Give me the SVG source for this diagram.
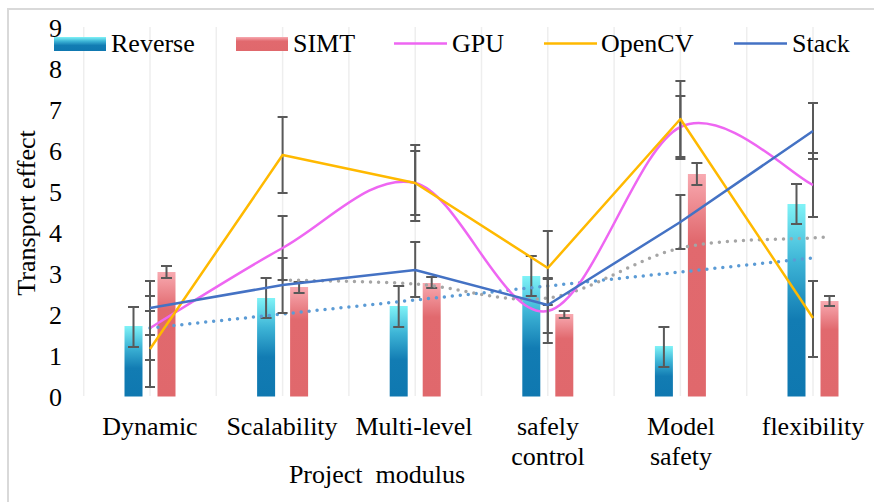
<svg xmlns="http://www.w3.org/2000/svg" width="874" height="502" viewBox="0 0 874 502" font-family="'Liberation Serif', 'DejaVu Serif', serif">
  <defs>
    <linearGradient id="gradReverse" x1="0" y1="0" x2="0" y2="1">
      <stop offset="0" stop-color="#80F3F7"/>
      <stop offset="0.3" stop-color="#3DB4D6"/>
      <stop offset="0.6" stop-color="#127CB3"/>
      <stop offset="1" stop-color="#0F78B0"/>
    </linearGradient>
    <linearGradient id="gradSimt" x1="0" y1="0" x2="0" y2="1">
      <stop offset="0" stop-color="#F8AAB1"/>
      <stop offset="0.3" stop-color="#E1696E"/>
      <stop offset="1" stop-color="#E0686C"/>
    </linearGradient>
    <style>
      text { font-size: 26px; fill: #000; }
      .grid { stroke: #EEEEEE; stroke-width: 1.5; }
      .frame { stroke: #D9D9D9; stroke-width: 2; fill: none; }
      .rev { fill: url(#gradReverse); }
      .simt { fill: url(#gradSimt); }
      .err { stroke: #595959; stroke-width: 2; fill: none; }
      .gpu { stroke: #EE66F2; stroke-width: 2.5; fill: none; }
      .ocv { stroke: #FFB900; stroke-width: 2.5; fill: none; stroke-linejoin: round; }
      .stk { stroke: #4472C4; stroke-width: 2.5; fill: none; stroke-linejoin: round; }
      .trend-blue { stroke: #5B9BD5; stroke-width: 3.5; stroke-dasharray: 0 8; stroke-linecap: round; fill: none; }
      .trend-gray { stroke: #A5A5A5; stroke-width: 3.5; stroke-dasharray: 0 8; stroke-linecap: round; fill: none; }
      .tick { text-anchor: end; }
      .cat { text-anchor: middle; }
    </style>
  </defs>

  <rect width="874" height="502" fill="#FFFFFF"/>
  <!-- chart frame (left and top edges) -->
  <path class="frame" d="M8,502 V9 H874"/>

  <!-- vertical gridlines -->
  <g id="gridlines">
    <line class="grid" x1="83.7" y1="27" x2="83.7" y2="396"/>
    <line class="grid" x1="150" y1="27" x2="150" y2="396"/>
    <line class="grid" x1="216.3" y1="27" x2="216.3" y2="396"/>
    <line class="grid" x1="282.6" y1="27" x2="282.6" y2="396"/>
    <line class="grid" x1="348.9" y1="27" x2="348.9" y2="396"/>
    <line class="grid" x1="415.2" y1="27" x2="415.2" y2="396"/>
    <line class="grid" x1="481.5" y1="27" x2="481.5" y2="396"/>
    <line class="grid" x1="547.8" y1="27" x2="547.8" y2="396"/>
    <line class="grid" x1="614.1" y1="27" x2="614.1" y2="396"/>
    <line class="grid" x1="680.4" y1="27" x2="680.4" y2="396"/>
    <line class="grid" x1="746.7" y1="27" x2="746.7" y2="396"/>
    <line class="grid" x1="813" y1="27" x2="813" y2="396"/>
  </g>

  <!-- value axis labels -->
  <g id="y-axis">
    <text class="tick" x="62" y="405.5">0</text>
    <text class="tick" x="62" y="364.5">1</text>
    <text class="tick" x="62" y="323.5">2</text>
    <text class="tick" x="62" y="282.5">3</text>
    <text class="tick" x="62" y="241.5">4</text>
    <text class="tick" x="62" y="200.5">5</text>
    <text class="tick" x="62" y="159.5">6</text>
    <text class="tick" x="62" y="118.5">7</text>
    <text class="tick" x="62" y="77.5">8</text>
    <text class="tick" x="62" y="36.5">9</text>
    <text class="cat" transform="translate(35,213) rotate(-90)">Transport effect</text>
  </g>

  <!-- category labels -->
  <g id="x-axis">
    <text class="cat" x="150" y="435">Dynamic</text>
    <text class="cat" x="282" y="435">Scalability</text>
    <text class="cat" x="414" y="435">Multi-level</text>
    <text class="cat" x="548" y="435">safely</text>
    <text class="cat" x="548" y="465">control</text>
    <text class="cat" x="681" y="435">Model</text>
    <text class="cat" x="681" y="465">safety</text>
    <text class="cat" x="813" y="435">flexibility</text>
    <text class="cat" x="377" y="483" xml:space="preserve">Project  modulus</text>
  </g>

  <!-- Reverse bars -->
  <g id="series-reverse">
    <rect class="rev" x="124.5" y="326" width="18" height="70.5"/>
    <rect class="rev" x="257.1" y="298" width="18" height="98.5"/>
    <rect class="rev" x="389.7" y="306" width="18" height="90.5"/>
    <rect class="rev" x="522.3" y="276" width="18" height="120.5"/>
    <rect class="rev" x="654.9" y="346" width="18" height="50.5"/>
    <rect class="rev" x="787.5" y="204" width="18" height="192.5"/>
    <path class="err" d="M133.5,307V347M128,307H139M128,347H139"/>
    <path class="err" d="M266.1,278V318M260.6,278H271.6M260.6,318H271.6"/>
    <path class="err" d="M398.7,286V327M393.2,286H404.2M393.2,327H404.2"/>
    <path class="err" d="M531.3,256V296M525.8,256H536.8M525.8,296H536.8"/>
    <path class="err" d="M663.9,327V367M658.4,327H669.4M658.4,367H669.4"/>
    <path class="err" d="M796.5,184V224M791,184H802M791,224H802"/>
  </g>

  <!-- SIMT bars -->
  <g id="series-simt">
    <rect class="simt" x="157.5" y="272" width="18" height="124.5"/>
    <rect class="simt" x="290.1" y="287" width="18" height="109.5"/>
    <rect class="simt" x="422.7" y="283" width="18" height="113.5"/>
    <rect class="simt" x="555.3" y="314" width="18" height="82.5"/>
    <rect class="simt" x="687.9" y="174" width="18" height="222.5"/>
    <rect class="simt" x="820.5" y="301" width="18" height="95.5"/>
    <path class="err" d="M166.5,266V278M161,266H172M161,278H172"/>
    <path class="err" d="M299.1,282V293M293.6,282H304.6M293.6,293H304.6"/>
    <path class="err" d="M431.7,277V288M426.2,277H437.2M426.2,288H437.2"/>
    <path class="err" d="M564.3,311V318M558.8,311H569.8M558.8,318H569.8"/>
    <path class="err" d="M696.9,163V185M691.4,163H702.4M691.4,185H702.4"/>
    <path class="err" d="M829.5,296V306M824,296H835M824,306H835"/>
  </g>

  <!-- trendlines and line series -->
  <g id="connectors">
    <path class="trend-blue" d="M150,328 L813,258"/>
    <path class="trend-gray" d="M282.6,280 C304.7,280.7 371,281 415.2,284 C459.4,287 503.6,304 547.8,298 C592,292 636.2,258 680.4,248 C724.6,238 790.9,239.7 813,238 L827,237"/>

    <g id="series-gpu">
      <path class="err" d="M150,296V360M145,296H155M145,360H155"/>
      <path class="err" d="M282.6,216V280M277.6,216H287.6M277.6,280H287.6"/>
      <path class="err" d="M415.2,151V215M410.2,151H420.2M410.2,215H420.2"/>
      <path class="err" d="M547.8,279V343M542.8,279H552.8M542.8,343H552.8"/>
      <path class="err" d="M680.4,96V159M675.4,96H685.4M675.4,159H685.4"/>
      <path class="err" d="M813,153V217M808,153H818M808,217H818"/>
      <path class="gpu" d="M150,328 C172.1,314.7 238.4,272.2 282.6,248 C326.8,223.8 371,172.5 415.2,183 C459.4,193.5 503.6,320.3 547.8,311 C592,301.7 636.2,148 680.4,127 C724.6,106 791,175.3 813,185"/>
    </g>

    <g id="series-opencv">
      <path class="err" d="M150,311V387M145,311H155M145,387H155"/>
      <path class="err" d="M282.6,117V193M277.6,117H287.6M277.6,193H287.6"/>
      <path class="err" d="M415.2,145V221M410.2,145H420.2M410.2,221H420.2"/>
      <path class="err" d="M547.8,231V305M542.8,231H552.8M542.8,305H552.8"/>
      <path class="err" d="M680.4,81V157M675.4,81H685.4M675.4,157H685.4"/>
      <path class="err" d="M813,281V357M808,281H818M808,357H818"/>
      <polyline class="ocv" points="150,349 282.6,155 415.2,183 547.8,268 680.4,119 813,318"/>
    </g>

    <g id="series-stack">
      <path class="err" d="M150,281V335M145,281H155M145,335H155"/>
      <path class="err" d="M282.6,258V313M277.6,258H287.6M277.6,313H287.6"/>
      <path class="err" d="M415.2,242V297M410.2,242H420.2M410.2,297H420.2"/>
      <path class="err" d="M547.8,278V333M542.8,278H552.8M542.8,333H552.8"/>
      <path class="err" d="M680.4,195V249M675.4,195H685.4M675.4,249H685.4"/>
      <path class="err" d="M813,103V159M808,103H818M808,159H818"/>
      <polyline class="stk" points="150,308 282.6,285 415.2,270 547.8,305 680.4,222 813,131"/>
    </g>
  </g>

  <!-- legend -->
  <g id="legend">
    <rect class="rev" x="54" y="37" width="52" height="14"/>
    <text x="111" y="52">Reverse</text>
    <rect class="simt" x="236" y="37" width="52" height="14"/>
    <text x="293" y="52">SIMT</text>
    <line class="gpu" x1="394" y1="43.5" x2="447" y2="43.5"/>
    <text x="452" y="52">GPU</text>
    <line class="ocv" x1="544" y1="43.5" x2="597" y2="43.5"/>
    <text x="601" y="52">OpenCV</text>
    <line class="stk" x1="734" y1="43.5" x2="787" y2="43.5"/>
    <text x="792" y="52">Stack</text>
  </g>
</svg>
